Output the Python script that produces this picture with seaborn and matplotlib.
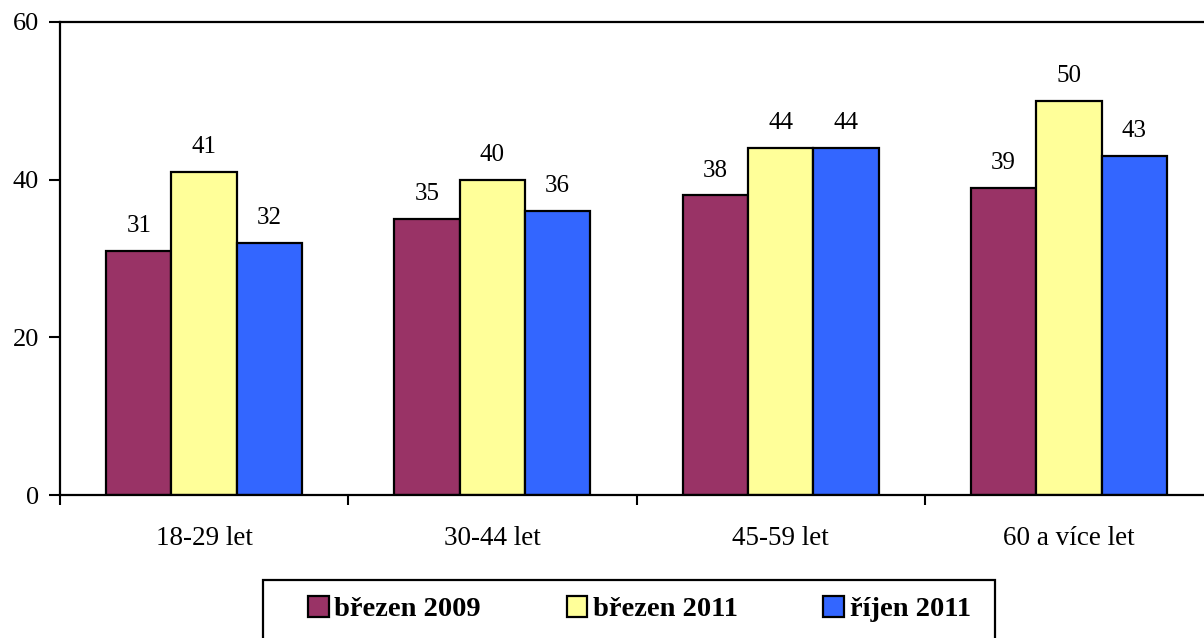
import matplotlib
matplotlib.use("Agg")
import matplotlib.pyplot as plt
import seaborn as sns
import pandas as pd
import numpy as np
from matplotlib.patches import Patch, Rectangle

categories = ["18-29 let", "30-44 let", "45-59 let", "60 a více let"]
series_names = ["březen 2009", "březen 2011", "říjen 2011"]
s2009_03 = [31, 35, 38, 39]
s2011_03 = [41, 40, 44, 50]
s2011_10 = [32, 36, 44, 43]
colors = ["#993366", "#FFFF99", "#3366FF"]
yticks = [0, 20, 40, 60]

sns.set_theme(style="white")
plt.rcParams['font.family'] = ['Liberation Serif', 'DejaVu Serif']
plt.rcParams['text.color'] = 'black'
plt.rcParams['xtick.color'] = 'black'
plt.rcParams['ytick.color'] = 'black'

rows = []
for name, vals in zip(series_names, [s2009_03, s2011_03, s2011_10]):
    for c, v in zip(categories, vals):
        rows.append({"cat": c, "series": name, "value": v})
df = pd.DataFrame(rows)

fig = plt.figure(figsize=(12.04, 6.38), dpi=100)
ax = fig.add_axes([60/1204, 1-495/638, (1213-60)/1204, (495-22)/638])

sns.barplot(data=df, x="cat", y="value", hue="series", order=categories,
            hue_order=series_names, palette=colors, saturation=1, width=0.68,
            edgecolor="black", linewidth=1.6, ax=ax, legend=False)

for cont in ax.containers:
    ax.bar_label(cont, fmt="%d", padding=10, fontsize=18, color="black")

ax.set_ylim(0, 60)
ax.set_xlim(-0.5, 3.5)
ax.set_yticks(yticks)
ax.set_xlabel("")
ax.set_ylabel("")
for s in ["left", "bottom", "top", "right"]:
    ax.spines[s].set_color("black")
    ax.spines[s].set_linewidth(1.6)
ax.tick_params(axis="y", which="major", direction="out", length=8, width=1.5,
               pad=7, labelsize=19, left=True, colors="black")
ax.tick_params(axis="x", which="major", length=0, pad=22, labelsize=19.5, colors="black")
ax.set_xticks(np.arange(-0.5, 4.0, 1.0), minor=True)
ax.tick_params(axis="x", which="minor", direction="out", length=7.5, width=1.5, bottom=True, color="black")

# legend frame
fig.add_artist(Rectangle((263/1204, 1-660/638), (995-263)/1204, 80/638,
                         transform=fig.transFigure, facecolor="none",
                         edgecolor="black", linewidth=1.6, clip_on=False))

handles = [Patch(facecolor=c, edgecolor="black", linewidth=1.6) for c in colors]
leg = fig.legend(handles, series_names, loc="center left", ncol=3,
                 bbox_to_anchor=(308/1204, 1-609/638), frameon=False,
                 prop={"family": "Liberation Serif", "weight": "bold", "size": 20.5},
                 labelcolor="black",
                 handlelength=0.73, handleheight=0.75, handletextpad=0.2,
                 columnspacing=3.0, borderpad=0, borderaxespad=0)

fig.savefig("out.png", dpi=100)
